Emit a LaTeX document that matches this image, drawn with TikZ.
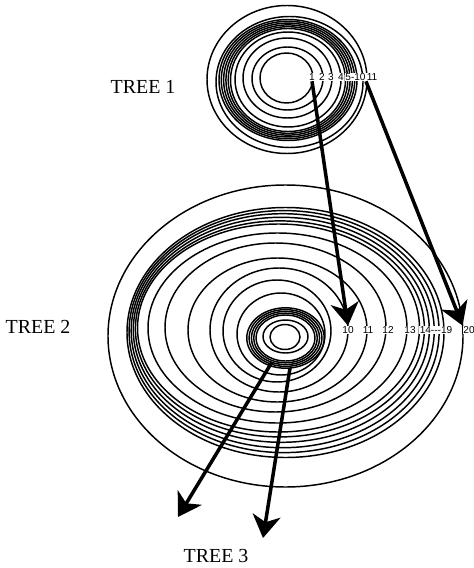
\documentclass[tikz,border=0pt]{standalone}
\usepackage{fontspec}
\setmainfont{Liberation Serif}
\setsansfont{Liberation Sans}
\usetikzlibrary{arrows.meta}
\tikzset{
  %% -- one growth ring of a tree --
  tree/ring/.style={draw=black, line width=1.25pt},
  %% -- ring number, printed over the ring --
  tree/num/.style={font=\sffamily\fontsize{8.6}{8.6}\selectfont,
    fill=white, inner sep=0.5pt},
  %% -- tree name --
  tree/name/.style={font=\fontsize{17}{17}\selectfont},
  %% -- ring mapping arrow --
  tree/arr/.style={-{Stealth[length=0.68cm, width=0.84cm, inset=0.2cm]},
    line width=3pt},
}

\begin{document}
\begin{tikzpicture}[x=0.03cm, y=-0.03cm]
\useasboundingbox (0,0) rectangle (473,568);

%% Tree 1 rings
\foreach \cx/\cy/\rx/\ry in {
  286.5/78/26.5/25, 287.5/78.5/35.5/31.5, 287.5/78/44.5/40,
  288/79.5/53/47.5,
  288/80/57.5/51.5, 288/80/59.8/53.3, 288/80/62.1/55.1,
  288/80/64.4/56.9, 288/80/66.7/58.7, 288/80/69/60.5,
  289.5/82/73.5/65.5, 287/79.5/80/74}
  \draw[tree/ring] (\cx,\cy) ellipse [x radius=\rx, y radius=\ry];

%% Tree 2 rings
\foreach \cx/\cy/\rx/\ry in {
  285/337/15/12.5, 285.5/336.5/22.5/16.5,
  285.5/338/29.5/23, 285.5/338/31.8/24.8, 285.5/338/34.1/26.6,
  285.5/338/36.4/28.4, 285.5/338/38.7/30.2,
  281/334/44/41, 277/331/54/51,
  279/330/69/62, 277.5/330/89.5/72, 275.5/327.5/110.5/84.5,
  277.5/328/129.5/95,
  278.5/328/141/104, 279.9/328.9/144.5/108, 281.3/329.8/148/112.5,
  282.7/330.7/151.5/117, 284.1/331.6/155/121, 285.5/332.5/158.5/125,
  285.5/336/177.5/151}
  \draw[tree/ring] (\cx,\cy) ellipse [x radius=\rx, y radius=\ry];

%% Ring numbers
\node[tree/num] (n1)  at (312,77) {1};
\node[tree/num] (n2)  at (322,77) {2};
\node[tree/num] (n3)  at (331,77) {3};
\node[tree/num] (n4)  at (341,77) {4};
\node[tree/num] (n5)  at (355.5,77) {5-10};
\node[tree/num] (n11) at (372,77) {11};

\node[tree/num] (n10) at (348,330) {10};
\node[tree/num] (m11) at (368,330) {11};
\node[tree/num] (n12) at (388,330) {12};
\node[tree/num] (n13) at (410,330) {13};
\node[tree/num] (n14) at (436,330) {14-{}-{}-19};
\node[tree/num] (n20) at (469,330) {20};

%% Tree names
\node[tree/name] (tree1) at (143,87)  {TREE 1};
\node[tree/name] (tree2) at (38,327)  {TREE 2};
\node[tree/name] (tree3) at (216,556) {TREE 3};

%% Arrow ends
\coordinate (s3) at (272,362);
\coordinate (e3) at (178,517);
\coordinate (s4) at (290,368);
\coordinate (e4) at (263,538);

%% Arrows
\draw[tree/arr] (n1.south) -- (n10.north);
\draw[tree/arr] (n11.south west) -- (n20.north west);
\draw[tree/arr] (s3) -- (e3);
\draw[tree/arr] (s4) -- (e4);
\end{tikzpicture}
\end{document}
